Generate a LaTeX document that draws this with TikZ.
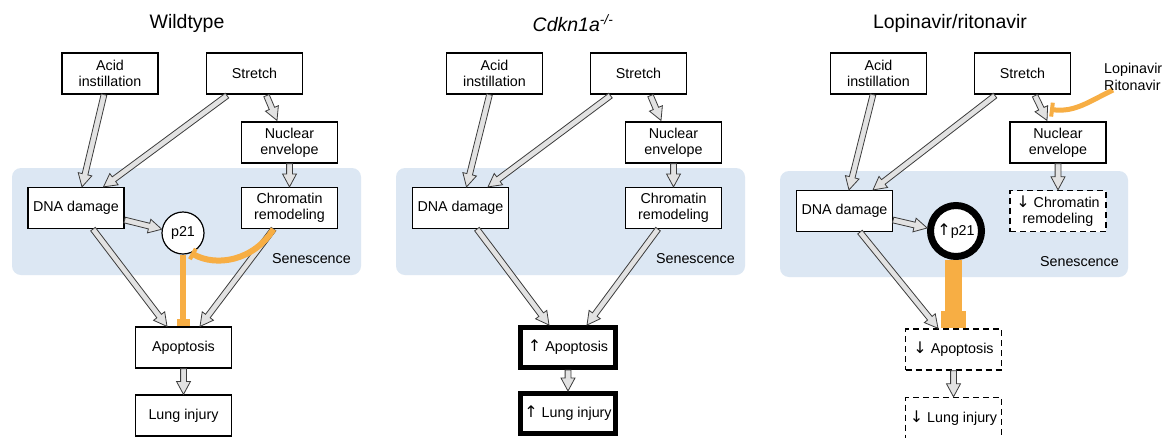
\documentclass[tikz,border=0pt]{standalone}
\usepackage{fontspec}
\setmainfont{Liberation Sans}
\newfontfamily\arrfont{DejaVu Sans}
\usetikzlibrary{calc,arrows.meta}
\definecolor{senbg}{RGB}{220,231,243}
\definecolor{inhib}{RGB}{247,174,68}
\definecolor{arrline}{RGB}{60,60,60}
\definecolor{arrfill}{RGB}{226,226,226}
\newcommand\bxfont{\fontsize{14.3}{16.3}\selectfont}
\newcommand\ttlfont{\fontsize{19.5}{22}\selectfont}
\newcommand\upar{{\arrfont\fontsize{16}{14}\selectfont ↑}}
\newcommand\dnar{{\arrfont\fontsize{16}{14}\selectfont ↓}}
\tikzset{
  box/.style={draw=black, line width=1.2pt, fill=white, minimum width=96pt,
    minimum height=41pt, align=center, inner sep=2pt, font=\bxfont},
  thickbox/.style={box, line width=5pt, minimum width=95pt, minimum height=40pt},
  dashbox/.style={box, line width=1.4pt, dash pattern=on 6pt off 4pt},
  pcirc/.style={circle, draw=black, line width=1.2pt, fill=white, minimum size=42pt,
    inner sep=0pt, font=\bxfont},
  pcircthick/.style={pcirc, line width=7pt, minimum size=51pt},
  senbox/.style={fill=senbg, rounded corners=9pt},
  senlabel/.style={anchor=east, font=\bxfont, inner sep=0pt},
  title/.style={font=\ttlfont, inner sep=0pt},
  hollow/.style={draw=arrline, fill=arrfill, line width=0.8pt, line join=miter},
  inh/.style={draw=inhib, line width=6.5pt}
}
\newcommand\hollowarrow[2]{%
  \path #1 coordinate (hA) #2 coordinate (hB);
  \path ($(hB)!13pt!(hA)$) coordinate (hC);
  \filldraw[hollow] ($(hA)!2.9pt!90:(hB)$) -- ($(hC)!2.9pt!90:(hB)$)
    -- ($(hC)!7pt!90:(hB)$) -- (hB) -- ($(hC)!7pt!-90:(hB)$)
    -- ($(hC)!2.9pt!-90:(hB)$) -- ($(hA)!2.9pt!-90:(hB)$) -- cycle;}
\begin{document}
\begin{tikzpicture}[x=1pt,y=-1pt]
\useasboundingbox (0,0) rectangle (1165,437);
\fill[white] (0,0) rectangle (1165,437);

% ---------------- Panel 1: Wildtype ----------------
\fill[senbox] (12,168) rectangle (361,275);
\node[senlabel] (sen1) at (351,259) {Senescence};
\node[title] (t1) at (187,23) {Wildtype};
\node[box] (acid1) at (110,73.5) {Acid\\instillation};
\node[box] (str1) at (254.5,73.5) {Stretch};
\node[box] (nuc1) at (289.5,142.5) {Nuclear\\envelope};
\node[box] (dna1) at (76,208) {DNA damage};
\node[box] (chr1) at (289.5,208) {Chromatin\\remodeling};
\node[pcirc] (p21a) at (183,233) {p21};
\node[box] (apo1) at (183.5,347.5) {Apoptosis};
\node[box] (lung1) at (183.5,415.5) {Lung injury};

\hollowarrow{($(acid1.south)+(-6,0)$)}{($(dna1.north)+(6,0)$)}
\hollowarrow{($(str1.south)+(-27.5,1)$)}{($(dna1.north)+(27.5,0)$)}
\hollowarrow{($(str1.south)+(12,1)$)}{($(nuc1.north)+(-12.5,-1)$)}
\hollowarrow{(nuc1.south)}{(chr1.north)}
\hollowarrow{($(dna1.east)+(0,12)$)}{(p21a.170)}
\hollowarrow{($(dna1.south)+(17,0)$)}{($(apo1.north)+(-16.5,0)$)}
\hollowarrow{($(chr1.south)+(-16,0)$)}{($(apo1.north)+(16.5,0)$)}
\hollowarrow{(apo1.south)}{(lung1.north)}
\draw[inh, -{Rectangle[length=7pt,width=13pt]}] (p21a.south) -- (p21a.south |- apo1.north);
\draw[inh, line width=6pt, -{Rectangle[length=4pt,width=12pt]}]
  ($(chr1.south)+(-16,0)$) .. controls +(-20,32) and +(25,14) .. (p21a.-68);

% ---------------- Panel 2: Cdkn1a-/- ----------------
\fill[senbox] (396,168) rectangle (745,275);
\node[senlabel] (sen2) at (735,259) {Senescence};
\node[title] (t2) at (573,23) {\textit{Cdkn1a}\textsuperscript{\textit{-/-}}};
\node[box] (acid2) at (494.5,73.5) {Acid\\instillation};
\node[box] (str2) at (638.5,73.5) {Stretch};
\node[box] (nuc2) at (673.5,142.5) {Nuclear\\envelope};
\node[box] (dna2) at (460.5,208) {DNA damage};
\node[box] (chr2) at (673.5,208) {Chromatin\\remodeling};
\node[thickbox] (apo2) at (568,347.5) {\upar\ Apoptosis};
\node[thickbox] (lung2) at (568,413.5) {\upar\ Lung injury};

\hollowarrow{($(acid2.south)+(-5,0)$)}{($(dna2.north)+(6,0)$)}
\hollowarrow{($(str2.south)+(-28,1)$)}{($(dna2.north)+(27.5,0)$)}
\hollowarrow{($(str2.south)+(12,1)$)}{($(nuc2.north)+(-12.5,-1)$)}
\hollowarrow{(nuc2.south)}{(chr2.north)}
\hollowarrow{($(dna2.south)+(16.5,0)$)}{($(apo2.north)+(-19,0)$)}
\hollowarrow{($(chr2.south)+(-15.5,0)$)}{($(apo2.north)+(19,0)$)}
\hollowarrow{(apo2.south)}{(lung2.north)}

% ---------------- Panel 3: Lopinavir/ritonavir ----------------
\fill[senbox] (780,171) rectangle (1128,277);
\node[senlabel] (sen3) at (1119,262) {Senescence};
\node[title] (t3) at (950,23) {Lopinavir/ritonavir};
\node[box] (acid3) at (878.5,73.5) {Acid\\instillation};
\node[box] (str3) at (1022.5,73.5) {Stretch};
\node[box] (nuc3) at (1058,142.5) {Nuclear\\envelope};
\node[box] (dna3) at (844.5,211) {DNA damage};
\node[dashbox] (chr3) at (1058,211) {\dnar\ Chromatin\\remodeling};
\node[pcircthick] (p21c) at (956,231) {\upar p21};
\node[dashbox] (apo3) at (953.5,349.5) {\dnar\ Apoptosis};
\node[dashbox] (lung3) at (953.5,418) {\dnar\ Lung injury};

\hollowarrow{($(acid3.south)+(-5.5,0)$)}{($(dna3.north)+(4.5,0)$)}
\hollowarrow{($(str3.south)+(-27.5,1)$)}{($(dna3.north)+(28.5,0)$)}
\hollowarrow{($(str3.south)+(12.5,1)$)}{($(nuc3.north)+(-11,-1)$)}
\hollowarrow{(nuc3.south)}{(chr3.north)}
\hollowarrow{($(dna3.east)+(0,9)$)}{(p21c.174)}
\hollowarrow{($(dna3.south)+(15.5,0)$)}{($(apo3.north)+(-15.5,0)$)}
\hollowarrow{(apo3.south)}{(lung3.north)}
\draw[inh, line width=17pt, -{Rectangle[length=17pt,width=25pt]}]
  (p21c.south -| apo3.north) -- (apo3.north);
\coordinate (lopsrc) at (1113,90);
\coordinate (lopend) at ($(nuc3.north)+(-8,-12)$);
\draw[inh, line width=5pt, -{Rectangle[length=4pt,width=14pt]}]
  (lopsrc) .. controls +(-25,12) and +(25,3) .. (lopend);
\node[anchor=west, align=left, font=\bxfont, inner sep=0pt] (lop) at (1104,77) {Lopinavir\\Ritonavir};
\end{tikzpicture}
\end{document}
